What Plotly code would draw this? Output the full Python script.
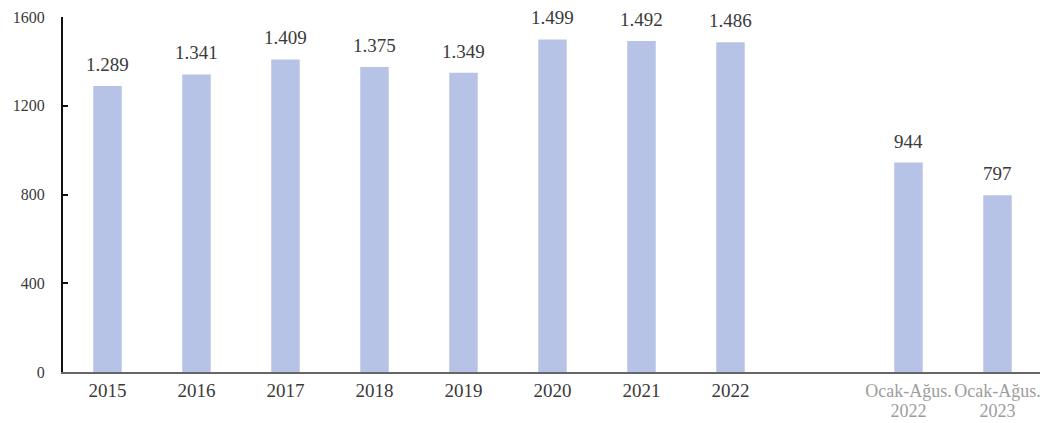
import plotly.graph_objects as go

categories = ["2015", "2016", "2017", "2018", "2019", "2020", "2021", "2022", " ",
              "Ocak-Ağus.<br>2022", "Ocak-Ağus.<br>2023"]
values = [1289, 1341, 1409, 1375, 1349, 1499, 1492, 1486, None, 944, 797]
ytick_vals = [0, 400, 800, 1200, 1600]

gray_style = "color:#9d9d9d;font-size:18px"
year_style = "font-size:19px"
tick_text = []
for c in categories:
    if c.startswith("Ocak"):
        parts = c.split("<br>")
        tick_text.append("<br>".join(f"<span style='{gray_style}'>{p}</span>" for p in parts))
    else:
        tick_text.append(f"<span style='{year_style}'>{c}</span>")

fig = go.Figure(go.Bar(
    x=categories, y=values, width=0.32,
    marker=dict(color="#b7c3e6", line=dict(width=0)),
    hoverinfo="x+y",
))

for i, v in enumerate(values):
    if v is None:
        continue
    fig.add_annotation(
        x=i, y=v, text=f"{v:,}".replace(",", "."), showarrow=False,
        yanchor="bottom", yshift=9,
        font=dict(family="Liberation Serif", size=19, color="#3a3a3a"),
    )

# the page body has an 8px margin, so the plot area is offset accordingly
fig.update_layout(
    width=1048, height=423,
    margin=dict(l=55, r=14, t=9, b=59, autoexpand=False),
    paper_bgcolor="white", plot_bgcolor="white",
    showlegend=False,
    font=dict(family="Liberation Serif", size=19, color="#333333"),
)
fig.update_xaxes(
    type="category", categoryorder="array", categoryarray=categories,
    tickvals=categories, ticktext=tick_text, automargin=False,
    range=[-0.5, 10.5], showline=True, linecolor="#666666", linewidth=2,
    ticks="", showgrid=False, ticklabelstandoff=5,
    tickfont=dict(family="Liberation Serif", size=15, color="#3a3a3a"),
)
fig.update_yaxes(
    range=[0, 1600], tickvals=ytick_vals, showline=True, linecolor="#111111", linewidth=2,
    ticks="inside", ticklen=5, tickcolor="#111111", tickwidth=2, automargin=False,
    showgrid=False, zeroline=False, ticklabelstandoff=13,
    tickfont=dict(family="Liberation Serif", size=16, color="#3a3a3a"),
)

fig.write_html("out.html")
